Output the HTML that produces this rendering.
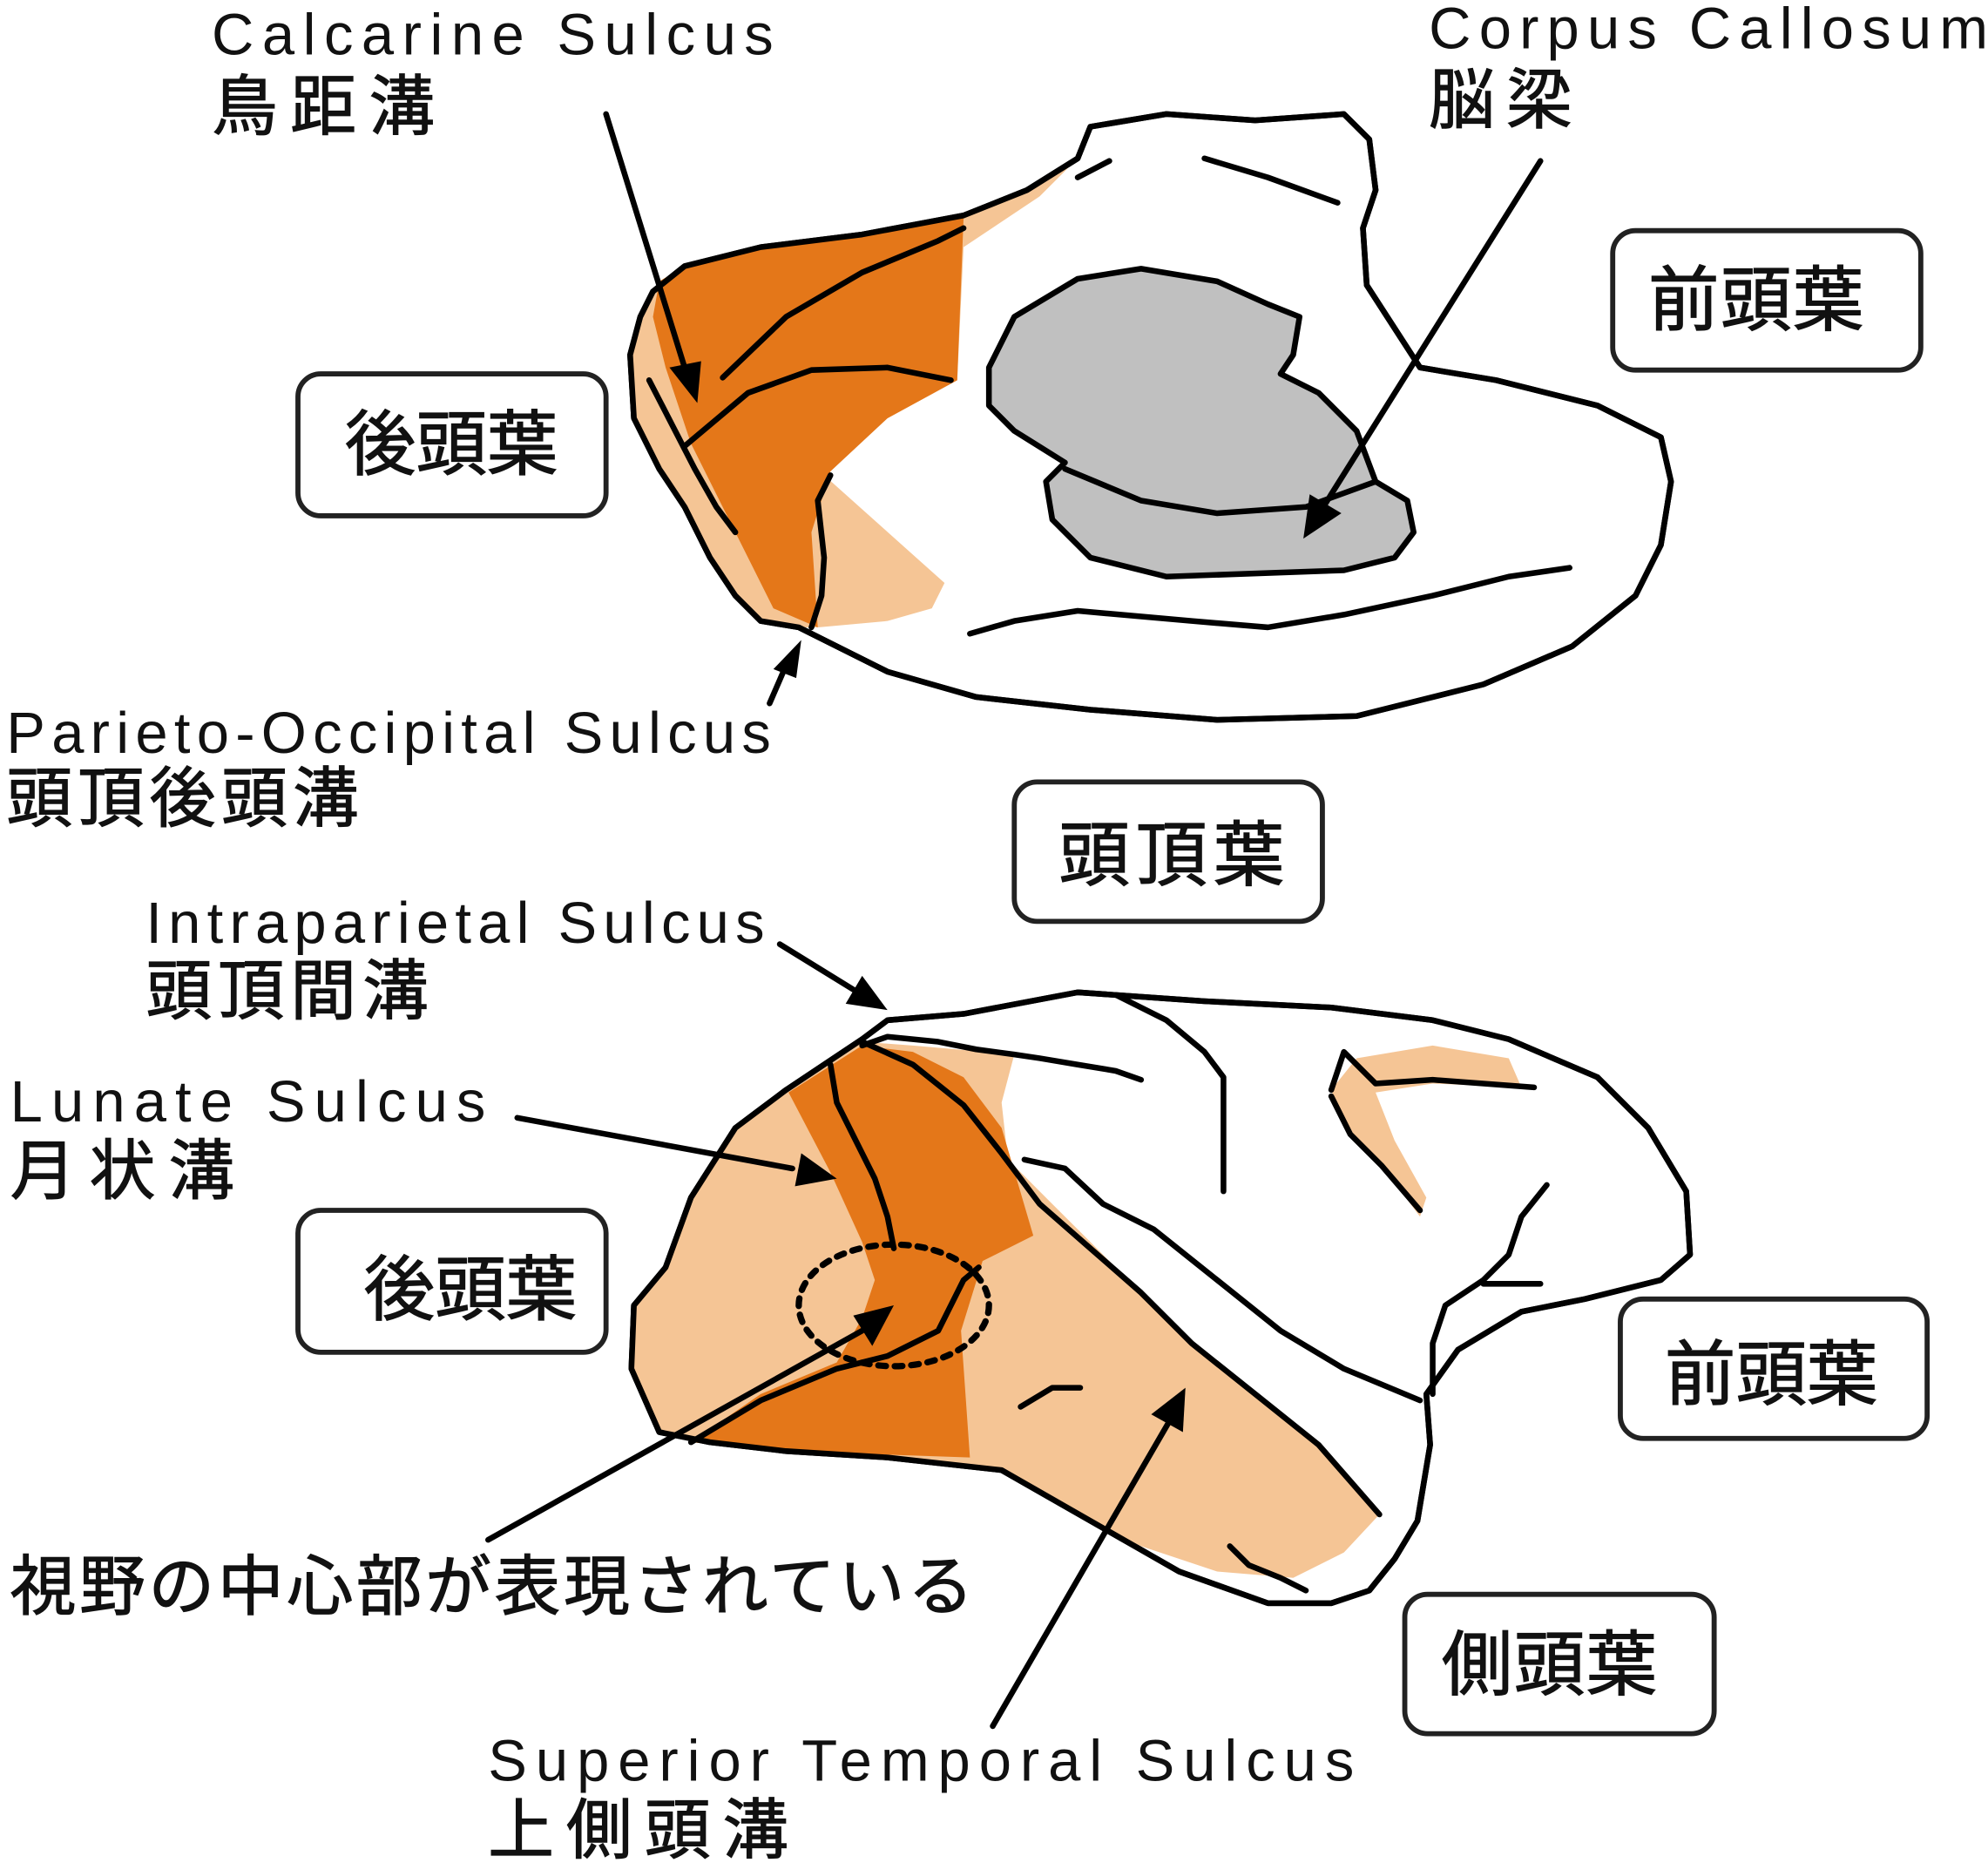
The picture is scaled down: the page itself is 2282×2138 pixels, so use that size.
<!DOCTYPE html>
<html><head><meta charset="utf-8"><style>
html,body{margin:0;padding:0;background:#fff;}
svg{display:block}
text{font-family:"Liberation Sans","Noto Sans CJK JP",sans-serif;fill:#111}
.j{stroke:#111;stroke-width:0.8}
</style></head><body>
<svg width="2282" height="2138" viewBox="0 0 1568 1470" preserveAspectRatio="none" xmlns="http://www.w3.org/2000/svg">
<g stroke="#000" stroke-width="4.5" stroke-linejoin="round" stroke-linecap="round">
<path d="M515,230 L540,210 600,195 680,185 760,170 810,150 850,125 860,100 920,90 990,95 1060,90 1080,110 1085,150 1075,180 1078,225 1120,290 1180,300 1260,320 1310,345 1318,380 1310,430 1290,470 1240,510 1170,540 1070,565 960,568 860,560 770,550 700,530 630,495 600,490 580,470 560,440 540,400 520,370 500,330 497,280 505,250 Z" fill="#fff"/>
</g>
<path d="M515,230 L540,210 600,195 680,185 760,170 810,150 850,125 820,155 760,195 755,300 700,330 650,375 745,460 735,480 700,490 645,495 630,495 600,490 580,470 560,440 540,400 520,370 500,330 497,280 505,250 Z" fill="#F5C595"/>
<path d="M520,222 L540,210 600,195 680,185 760,172 755,300 700,330 655,372 640,420 645,495 610,480 580,420 545,350 525,290 515,250 Z" fill="#E47719"/>
<g stroke="#000" stroke-width="4.5" stroke-linejoin="round" stroke-linecap="round" fill="none">
<path d="M515,230 L540,210 600,195 680,185 760,170 810,150 850,125 860,100 920,90 990,95 1060,90 1080,110 1085,150 1075,180 1078,225 1120,290 1180,300 1260,320 1310,345 1318,380 1310,430 1290,470 1240,510 1170,540 1070,565 960,568 860,560 770,550 700,530 630,495 600,490 580,470 560,440 540,400 520,370 500,330 497,280 505,250 Z"/>
<path d="M780,290 L800,250 850,220 900,212 960,222 1000,240 1025,250 1020,280 1010,295 1040,310 1070,340 1085,380 1110,395 1115,420 1100,440 1060,450 920,455 860,440 830,410 825,380 840,365 800,340 780,320 Z" fill="#C0C0C0"/>
<path d="M840,370 L900,395 960,405 1030,400 1085,380"/>
<path d="M850,140 L875,127"/>
<path d="M950,125 L1000,140 1055,160"/>
<path d="M765,500 L800,490 850,482 940,490 1000,495 1060,485 1130,470 1190,455 1238,448"/>
<path d="M570,298 L620,250 680,215 740,190 760,180"/>
<path d="M540,352 L590,310 640,292 700,290 750,300"/>
<path d="M655,375 L645,395 650,440 648,470 640,495"/>
<path d="M512,300 L530,335 548,370 565,400 580,420"/>
<path d="M520,1130 L498,1080 500,1030 525,1000 545,945 580,890 620,860 680,820 700,805 760,800 850,783 950,790 1050,795 1130,805 1190,820 1260,850 1300,890 1330,940 1333,990 1310,1010 1250,1025 1200,1035 1150,1065 1125,1100 1128,1140 1118,1200 1100,1230 1080,1255 1050,1265 1000,1265 930,1240 860,1200 790,1160 700,1150 620,1145 560,1138 Z" fill="#fff"/>
</g>
<path d="M520,1130 L498,1080 500,1030 525,1000 545,945 580,890 620,860 680,822 720,825 800,832 790,870 795,915 830,950 870,990 930,1050 1000,1110 1050,1150 1088,1195 1060,1225 1020,1245 960,1240 900,1220 860,1200 790,1160 700,1150 620,1145 560,1138 Z" fill="#F5C595"/>
<path d="M622,862 L680,825 720,830 760,850 790,890 815,975 775,995 758,1050 765,1150 620,1145 545,1138 600,1100 660,1075 680,1040 690,1010 680,980 655,925 Z" fill="#E47719"/>
<path d="M1050,860 L1070,835 1130,825 1190,835 1200,858 1130,855 1085,862 1100,900 1125,945 1120,960 1090,920 1060,890 Z" fill="#F5C595"/>
<g stroke="#000" stroke-width="4.5" stroke-linejoin="round" stroke-linecap="round" fill="none">
<path d="M520,1130 L498,1080 500,1030 525,1000 545,945 580,890 620,860 680,820 700,805 760,800 850,783 950,790 1050,795 1130,805 1190,820 1260,850 1300,890 1330,940 1333,990 1310,1010 1250,1025 1200,1035 1150,1065 1125,1100 1128,1140 1118,1200 1100,1230 1080,1255 1050,1265 1000,1265 930,1240 860,1200 790,1160 700,1150 620,1145 560,1138 Z"/>
<path d="M680,825 L700,818 740,822 770,828 800,832 820,835 850,840 880,845 900,852"/>
<path d="M680,822 L720,840 760,872 790,910 820,950 860,985 900,1020 940,1060 990,1100 1040,1140 1088,1195"/>
<path d="M808,915 L840,922 870,950 910,970 960,1010 1010,1050 1060,1080 1120,1105"/>
<path d="M655,840 L660,870 675,900 690,930 700,960 705,985"/>
<path d="M545,1138 L600,1105 660,1080 700,1070 740,1050 760,1010 772,1000"/>
<path d="M880,785 L920,805 950,830 965,850 965,900 965,940"/>
<path d="M1050,860 L1060,830 1085,855 1130,852 1210,858"/>
<path d="M1050,865 L1065,895 1090,920 1120,955"/>
<path d="M1220,935 L1200,960 1190,990 1170,1010 1140,1030 1130,1060 1130,1100"/>
<path d="M1170,1013 L1215,1013"/>
<path d="M805,1110 L830,1095 852,1095"/>
<path d="M970,1220 L985,1235 1010,1245 1030,1255"/>
<ellipse cx="705" cy="1030" rx="75" ry="48" stroke-width="5" stroke-dasharray="6,7"/>
<path d="M478,90 L540,290"/>
<path d="M1215,127 L1045,398"/>
<path d="M607,555 L620,525"/>
<path d="M615,745 L675,782"/>
<path d="M408,882 L625,922"/>
<path d="M385,1215 L680,1050"/>
<path d="M783,1362 L922,1122"/>
</g>
<g fill="#000">
<polygon points="550,318 528,290 553,285"/>
<polygon points="1028,425 1033,390 1058,405"/>
<polygon points="632,505 628,535 610,528"/>
<polygon points="700,797 667,792 680,770"/>
<polygon points="660,930 627,936 632,910"/>
<polygon points="705,1030 688,1062 673,1038"/>
<polygon points="935,1095 933,1130 908,1116"/>
</g>
<g fill="#fff" stroke="#222" stroke-width="4">
<rect x="235" y="295" width="243" height="112" rx="18"/>
<rect x="1272" y="182" width="243" height="110" rx="18"/>
<rect x="800" y="617" width="243" height="110" rx="18"/>
<rect x="235" y="955" width="243" height="112" rx="18"/>
<rect x="1278" y="1025" width="242" height="110" rx="18"/>
<rect x="1108" y="1258" width="244" height="110" rx="18"/>
</g>
<g font-size="56" class="j">
<text x="272" y="370" textLength="168" lengthAdjust="spacing">後頭葉</text>
<text x="1300" y="256" textLength="170" lengthAdjust="spacing">前頭葉</text>
<text x="835" y="694" textLength="178" lengthAdjust="spacing">頭頂葉</text>
<text x="287" y="1037" textLength="168" lengthAdjust="spacing">後頭葉</text>
<text x="1313" y="1104" textLength="168" lengthAdjust="spacing">前頭葉</text>
<text x="1137" y="1333" textLength="170" lengthAdjust="spacing">側頭葉</text>
</g>
<g font-size="46">
<text x="167" y="43" textLength="443" lengthAdjust="spacing">Calcarine Sulcus</text>
<text x="1127" y="38" textLength="441" lengthAdjust="spacing">Corpus Callosum</text>
<text x="5" y="594" textLength="603" lengthAdjust="spacing">Parieto-Occipital Sulcus</text>
<text x="115" y="744" textLength="488" lengthAdjust="spacing">Intraparietal Sulcus</text>
<text x="8" y="885" textLength="375" lengthAdjust="spacing">Lunate Sulcus</text>
<text x="385" y="1405" textLength="683" lengthAdjust="spacing">Superior Temporal Sulcus</text>
</g>
<g font-size="52" class="j">
<text x="167" y="102" textLength="176" lengthAdjust="spacing">鳥距溝</text>
<text x="1127" y="97" textLength="113" lengthAdjust="spacing">脳梁</text>
<text x="5" y="648" textLength="278" lengthAdjust="spacing">頭頂後頭溝</text>
<text x="115" y="800" textLength="223" lengthAdjust="spacing">頭頂間溝</text>
<text x="8" y="942" textLength="177" lengthAdjust="spacing">月状溝</text>
<text x="8" y="1270" textLength="760" lengthAdjust="spacing">視野の中心部が表現されている</text>
<text x="385" y="1462" textLength="237" lengthAdjust="spacing">上側頭溝</text>
</g>
</svg>
</body></html>
